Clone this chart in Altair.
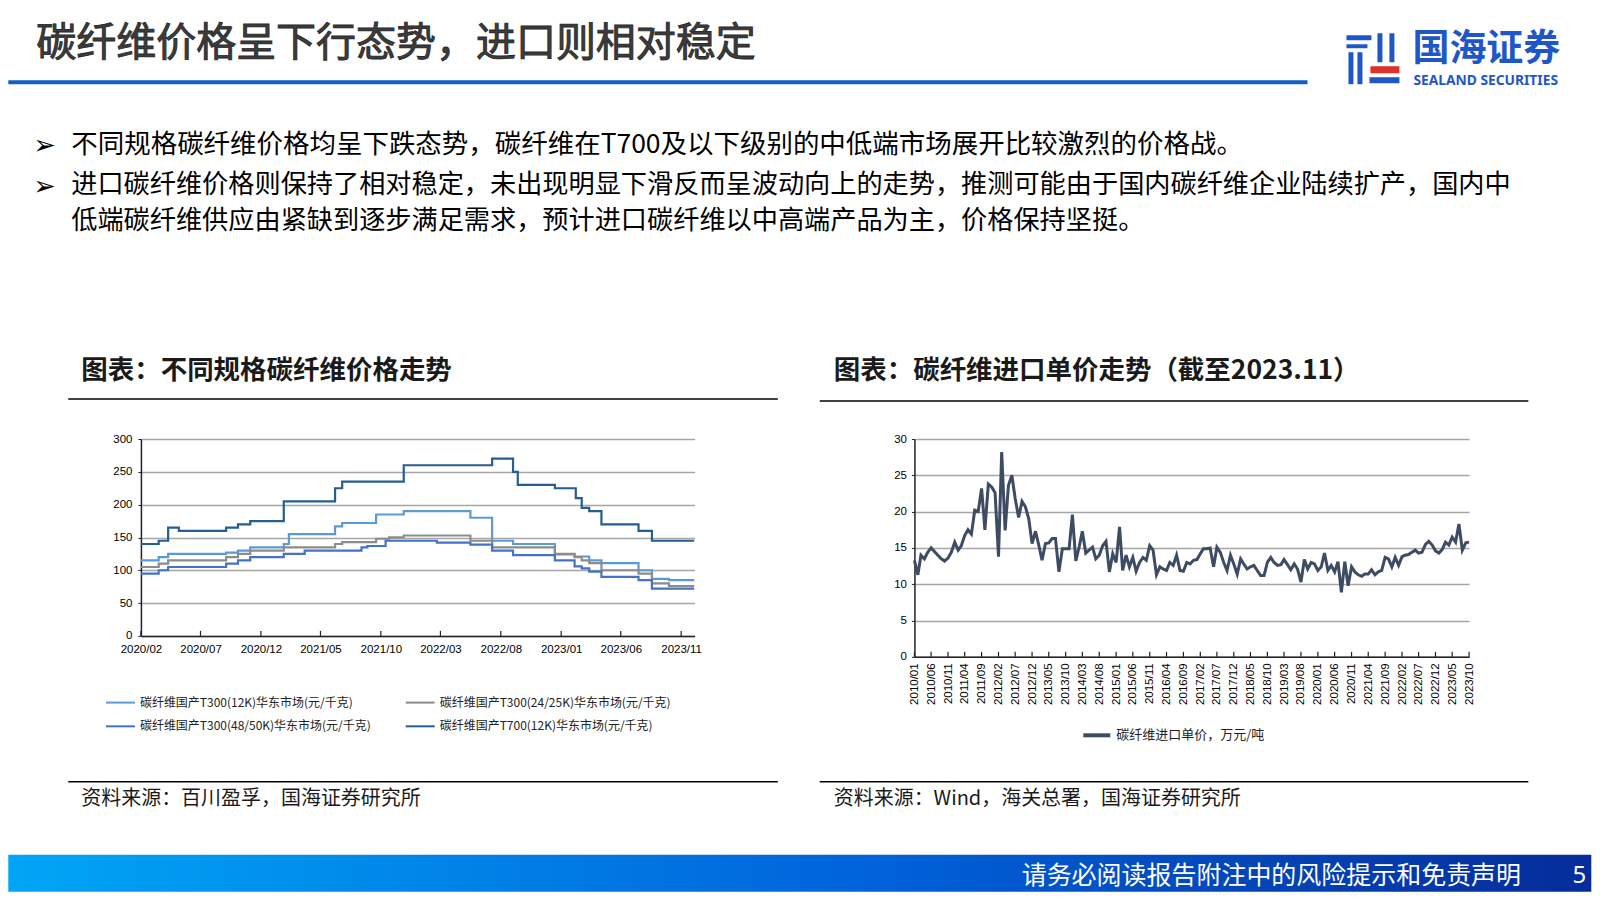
import altair as alt
import pandas as pd

# ---------------- Left chart data (step change points, 元/千克) ----------------
series_names = [
    "碳纤维国产T300(12K)华东市场(元/千克)",
    "碳纤维国产T300(24/25K)华东市场(元/千克)",
    "碳纤维国产T300(48/50K)华东市场(元/千克)",
    "碳纤维国产T700(12K)华东市场(元/千克)",
]
series_colors = ["#5b9bd5", "#8c8c8c", "#4472c4", "#255e91"]

t300_12k_dates = ["2020-02-01", "2020-03-17", "2020-04-10", "2020-09-04", "2020-10-04", "2020-11-04",
                  "2021-01-28", "2021-02-10", "2021-06-07", "2021-06-25", "2021-09-19", "2021-11-28",
                  "2022-05-16", "2022-07-10", "2022-09-01", "2022-12-16", "2023-02-04", "2023-03-13",
                  "2023-04-13", "2023-07-16", "2023-08-19", "2023-10-01", "2023-12-04"]
t300_12k_vals = [115, 120, 125, 127, 130, 135, 140, 155, 167, 172, 185, 190,
                 180, 145, 140, 124, 121, 115, 111, 100, 87, 85, 85]

t300_24k_dates = ["2020-02-01", "2020-03-17", "2020-04-10", "2020-09-04", "2020-10-04", "2020-11-04",
                  "2021-01-28", "2021-06-07", "2021-06-25", "2021-09-19", "2021-10-22", "2021-11-28",
                  "2022-05-16", "2022-07-10", "2022-12-16", "2023-02-04", "2023-02-22", "2023-03-13",
                  "2023-04-13", "2023-07-16", "2023-08-19", "2023-10-01", "2023-12-04"]
t300_24k_vals = [105, 110, 115, 120, 125, 130, 135, 140, 143, 148, 150, 153,
                 145, 135, 125, 120, 115, 111, 100, 95, 80, 76, 76]

t300_48k_dates = ["2020-02-01", "2020-03-17", "2020-04-10", "2020-09-04", "2020-10-04", "2020-11-04",
                  "2021-01-28", "2021-03-22", "2021-08-13", "2021-08-28", "2021-10-13", "2022-02-20",
                  "2022-05-16", "2022-07-10", "2022-09-01", "2022-12-16", "2023-02-04", "2023-02-22",
                  "2023-03-13", "2023-04-13", "2023-07-16", "2023-08-19", "2023-12-04"]
t300_48k_vals = [95, 100, 105, 110, 115, 120, 125, 130, 135, 137, 145, 142,
                 139, 130, 123, 115, 106, 103, 98, 90, 85, 72, 72]

t700_12k_dates = ["2020-02-01", "2020-03-17", "2020-04-10", "2020-05-07", "2020-09-04", "2020-10-04",
                  "2020-11-04", "2021-01-28", "2021-06-07", "2021-06-25", "2021-11-28", "2022-07-10",
                  "2022-09-01", "2022-09-13", "2022-12-16", "2023-02-07", "2023-02-22", "2023-03-13",
                  "2023-04-13", "2023-07-16", "2023-08-19", "2023-12-04"]
t700_12k_vals = [140, 145, 165, 160, 165, 170, 175, 205, 225, 235, 260, 270,
                 250, 230, 225, 210, 195, 190, 170, 160, 145, 145]

left_tick_labels = ["2020/02", "2020/07", "2020/12", "2021/05", "2021/10",
                    "2022/03", "2022/08", "2023/01", "2023/06", "2023/11"]
left_y_ticks = [0, 50, 100, 150, 200, 250, 300]

# ---------------- Right chart data (monthly import price, 万元/吨) ----------------
imp_2010 = [13.3, 11.3, 14.0, 13.5, 14.4, 15.0, 14.5, 14.0, 13.5, 13.2, 13.6, 14.4]
imp_2011 = [15.8, 14.7, 15.3, 16.7, 17.5, 16.9, 20.2, 20.0, 23.2, 17.5, 23.8, 23.4]
imp_2012 = [22.6, 13.8, 28.2, 17.4, 23.6, 25.0, 21.8, 19.2, 21.4, 20.7, 19.0, 15.6]
imp_2013 = [17.3, 15.3, 13.3, 15.6, 15.7, 16.3, 16.3, 11.7, 14.9, 14.9, 14.9, 19.6]
imp_2014 = [13.2, 15.2, 17.3, 14.3, 14.7, 15.1, 13.5, 14.0, 15.3, 15.9, 11.7, 14.2]
imp_2015 = [13.0, 17.9, 11.9, 14.0, 12.4, 13.7, 11.8, 13.0, 13.7, 13.3, 15.3, 14.7]
imp_2016 = [11.3, 12.4, 12.1, 11.9, 13.0, 12.6, 14.0, 11.9, 11.8, 13.0, 12.8, 13.3]
imp_2017 = [13.4, 14.2, 14.9, 14.9, 15.0, 12.4, 15.1, 14.4, 13.0, 11.9, 14.0, 12.8]
imp_2018 = [11.4, 13.5, 12.8, 12.1, 12.4, 12.6, 11.9, 11.2, 11.2, 13.0, 13.7, 13.0]
imp_2019 = [12.6, 12.7, 13.4, 12.7, 12.0, 12.8, 12.1, 10.3, 13.4, 12.1, 13.0, 12.8]
imp_2020 = [11.9, 12.4, 14.3, 11.9, 12.6, 11.7, 13.1, 8.9, 13.1, 9.8, 12.4, 11.7]
imp_2021 = [11.3, 11.1, 11.4, 11.4, 12.0, 11.3, 11.7, 11.9, 13.7, 13.5, 12.4, 13.7]
imp_2022 = [12.6, 13.8, 14.0, 14.1, 14.4, 14.7, 14.3, 14.4, 15.5, 15.9, 15.4, 14.6]
imp_2023 = [14.3, 14.8, 15.8, 15.4, 16.5, 15.8, 18.3, 14.7, 15.7, 15.8]
import_series_name = "碳纤维进口单价，万元/吨"
right_y_ticks = [0, 5, 10, 15, 20, 25, 30]

# ---------------- tables ----------------
rows = []
for name, ds, vs in zip(series_names,
                        [t300_12k_dates, t300_24k_dates, t300_48k_dates, t700_12k_dates],
                        [t300_12k_vals, t300_24k_vals, t300_48k_vals, t700_12k_vals]):
    for d, v in zip(ds, vs):
        rows.append({"date": d, "value": v, "series": name})
df_left = pd.DataFrame(rows)
df_left_ticks = pd.DataFrame({"date": [s.replace("/", "-") + "-01" for s in left_tick_labels]})

imp_vals = (imp_2010 + imp_2011 + imp_2012 + imp_2013 + imp_2014 + imp_2015 + imp_2016 +
            imp_2017 + imp_2018 + imp_2019 + imp_2020 + imp_2021 + imp_2022 + imp_2023)
imp_months = pd.date_range("2010-01-01", periods=len(imp_vals), freq="MS").strftime("%Y-%m-%d")
df_right = pd.DataFrame({"date": imp_months, "value": imp_vals, "series": import_series_name})
right_tick_dates = list(imp_months[::5])
df_right_ticks = pd.DataFrame({"date": right_tick_dates})


def dt(s):
    y, m, d = [int(p) for p in s.split("-")]
    return alt.DateTime(year=y, month=m, date=d, utc=True)


# ---------------- layout helpers (slide pixel coords -> left plot coords) ----------------
OX, OY = 140.7, 439.0
LW, LH = 554, 197
RW, RH = 555, 218
CJK = "Noto Sans CJK SC"
one = pd.DataFrame({"k": [0]})


def px(x):
    return x - OX


def py(y):
    return y - OY


def label(text, x, y, size, color="#000000", weight="normal", font=CJK, align="left",
          stroke=None, sw=0):
    kw = dict(align=align, baseline="middle", fontSize=size, font=font,
              fontWeight=weight, color=color)
    if stroke:
        kw.update(stroke=stroke, strokeWidth=sw)
    return alt.Chart(pd.DataFrame({"t": [text]})).mark_text(**kw).encode(
        x=alt.value(px(x)), y=alt.value(py(y)), text="t:N")


def box(x1, y1, x2, y2, color, opacity=1.0):
    return alt.Chart(one).mark_rect(color=color, opacity=opacity).encode(
        x=alt.value(px(x1)), x2=alt.value(px(x2)),
        y=alt.value(py(y1)), y2=alt.value(py(y2)))


def hline(x1, x2, y, color="#000000", w=1.5):
    return alt.Chart(one).mark_rule(color=color, strokeWidth=w).encode(
        x=alt.value(px(x1)), x2=alt.value(px(x2)), y=alt.value(py(y)))


BLUE = "#1f57c8"
deco = [
    box(8, 8, 1592, 892, "#ffffff", opacity=0),
    label("碳纤维价格呈下行态势，进口则相对稳定", 36, 44, 40, color="#3c3c3c",
          stroke="#2a2a2a", sw=0.9),
    box(8, 80, 1308, 84, "#1060c8"),
    # logo mark
    box(1347, 35, 1372, 40, BLUE),
    box(1347, 44, 1368, 48, BLUE),
    box(1349, 52, 1354, 84, BLUE),
    box(1358, 52, 1363, 84, BLUE),
    box(1378, 33, 1383, 62, BLUE),
    box(1390, 33, 1395, 62, BLUE),
    box(1371, 66, 1400, 73, "#e0302c"),
    box(1370, 77, 1400, 83, BLUE),
    label("国海证券", 1413, 49.5, 37, color=BLUE, weight="bold"),
    label("SEALAND SECURITIES", 1414, 81, 13.8, color=BLUE, weight="bold", font="Noto Sans"),
    # bullets
    label("➢", 33, 146, 27, font="DejaVu Sans"),
    label("不同规格碳纤维价格均呈下跌态势，碳纤维在T700及以下级别的中低端市场展开比较激烈的价格战。", 71, 145, 26.5),
    label("➢", 33, 186.5, 27, font="DejaVu Sans"),
    label("进口碳纤维价格则保持了相对稳定，未出现明显下滑反而呈波动向上的走势，推测可能由于国内碳纤维企业陆续扩产，国内中", 71, 185, 26.2),
    label("低端碳纤维供应由紧缺到逐步满足需求，预计进口碳纤维以中高端产品为主，价格保持坚挺。", 71, 221, 26.2),
    # panel titles
    label("图表：不同规格碳纤维价格走势", 81, 371, 26.5, weight="bold", color="#1a1a1a"),
    hline(68, 778, 399),
    label("图表：碳纤维进口单价走势（截至2023.11）", 834, 371, 26.5, weight="bold", color="#1a1a1a"),
    hline(820, 1529, 401),
    # sources
    hline(68, 778, 782),
    label("资料来源：百川盈孚，国海证券研究所", 81, 799, 20, color="#1a1a1a"),
    hline(820, 1529, 782),
    label("资料来源：Wind，海关总署，国海证券研究所", 834, 799, 20, color="#1a1a1a"),
    # footer
    alt.Chart(one).mark_rect(color=alt.Gradient(
        gradient="linear", x1=0, x2=1, y1=0, y2=0,
        stops=[alt.GradientStop(color="#00a6f6", offset=0),
               alt.GradientStop(color="#0062da", offset=0.55),
               alt.GradientStop(color="#062c9a", offset=1)])).encode(
        x=alt.value(px(8)), x2=alt.value(px(1592)), y=alt.value(py(855)), y2=alt.value(py(892))),
    label("请务必阅读报告附注中的风险提示和免责声明", 1022, 876, 25, color="#ffffff"),
    label("5", 1580, 876, 24, color="#ffffff", align="center", font="Noto Sans"),
]

axis_common = dict(labelFont="Liberation Sans", labelFontSize=11.5, labelColor="#000000",
                   domainColor="#222222", domainWidth=1.5, title=None)

left_x = alt.X("date:T",
               scale=alt.Scale(type="utc", domain=[dt("2020-02-01"), dt("2023-12-05")], nice=False),
               axis=alt.Axis(values=[dt(d) for d in df_left_ticks["date"]],
                             labelExpr="utcFormat(datum.value, '%Y/%m')",
                             ticks=False, tickSize=0, grid=False, labelPadding=8,
                             labelFlush=False, labelOverlap=False, **axis_common))

left_lines = alt.Chart(df_left).mark_line(interpolate="step-after", strokeWidth=2.2).encode(
    x=left_x,
    y=alt.Y("value:Q", scale=alt.Scale(domain=[0, 300], nice=False),
            axis=alt.Axis(values=left_y_ticks, grid=True, gridColor="#a6a6a6", gridWidth=1.5,
                          tickSize=3, tickColor="#222222", labelPadding=6, **axis_common)),
    color=alt.Color("series:N",
                    scale=alt.Scale(domain=series_names, range=series_colors),
                    legend=alt.Legend(orient="none", legendX=-36, legendY=248, columns=2,
                                      direction="horizontal",
                                      title=None, symbolType="stroke", symbolSize=841,
                                      symbolStrokeWidth=2, labelFont=CJK, labelFontSize=12,
                                      labelColor="#222222", labelLimit=600, columnPadding=30,
                                      rowPadding=2, labelOffset=4, padding=0)),
)
left_ticks = alt.Chart(df_left_ticks).mark_rule(color="#222222", strokeWidth=1.2).encode(
    x=left_x, y=alt.value(LH - 5), y2=alt.value(LH))

left = alt.layer(*deco, left_lines, left_ticks).properties(width=LW, height=LH)

right_x = alt.X("date:T",
                scale=alt.Scale(type="utc", domain=[dt("2010-01-01"), dt("2023-10-01")], nice=False),
                axis=alt.Axis(values=[dt(d) for d in right_tick_dates],
                              labelExpr="utcFormat(datum.value, '%Y/%m')",
                              ticks=False, tickSize=0, grid=False, labelPadding=6, labelAngle=270,
                              labelAlign="right", labelBaseline="middle",
                              labelFlush=False, labelOverlap=False, **axis_common))

right_line = alt.Chart(df_right).mark_line(strokeWidth=3).encode(
    x=right_x,
    y=alt.Y("value:Q", scale=alt.Scale(domain=[0, 30], nice=False),
            axis=alt.Axis(values=right_y_ticks, grid=True, gridColor="#a6a6a6", gridWidth=1.5,
                          tickSize=3, tickColor="#222222", labelPadding=5, **axis_common)),
    color=alt.Color("series:N",
                    scale=alt.Scale(domain=[import_series_name], range=["#3d4b63"]),
                    legend=alt.Legend(orient="none", legendX=167, legendY=281, title=None,
                                      symbolType="stroke", symbolSize=729, symbolStrokeWidth=4,
                                      labelFont=CJK, labelFontSize=13, labelColor="#222222",
                                      labelLimit=600, labelOffset=4, padding=0)),
)
right_ticks = alt.Chart(df_right_ticks).mark_rule(color="#222222", strokeWidth=1.2).encode(
    x=right_x, y=alt.value(RH - 5), y2=alt.value(RH))

right = alt.layer(right_line, right_ticks).properties(width=RW, height=RH)

chart = (alt.hconcat(left, right, spacing=220, bounds="flush", padding=0)
         .resolve_scale(color="independent")
         .resolve_legend(color="independent")
         .configure_view(strokeWidth=0))

chart.save("out.html", embed_options={"renderer": "svg", "actions": False})
